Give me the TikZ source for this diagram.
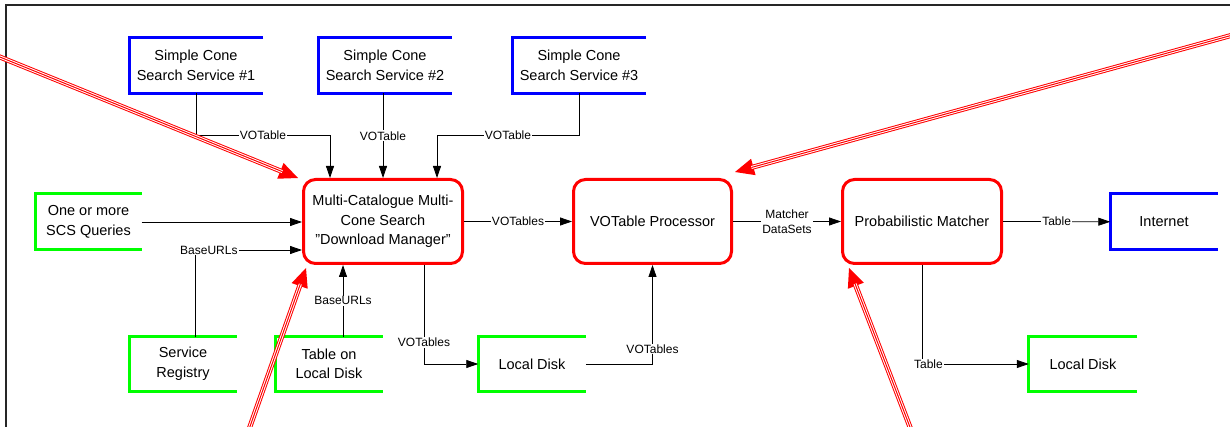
\documentclass[tikz,border=0pt]{standalone}
\usepackage{fontspec}
\setmainfont{Liberation Sans}
\usetikzlibrary{arrows.meta,calc}

\begin{document}
\begin{tikzpicture}[x=1pt,y=-1pt,
  boxfont/.style={font=\fontsize{14.5}{19.5}\selectfont},
  lblfont/.style={font=\fontsize{12}{15}\selectfont},
  process/.style={draw=red, line width=3pt, rounded corners=12pt, fill=white,
    minimum width=159pt, minimum height=84pt, align=center, inner sep=0pt, boxfont},
  store/.style={minimum height=56pt, align=center, inner sep=0pt, outer sep=0pt, boxfont},
  openbox/.style={line width=3pt, line join=miter},
  conn/.style={line width=0.8pt, black},
  arr/.style={conn, -{Triangle[length=12pt,width=8pt]}},
  lbl/.style={fill=white, inner sep=1pt, lblfont},
  pipe/.style={draw=red, line width=5pt,
    -{Triangle[length=19pt,width=17pt,line width=0pt]},
    postaction={draw=white, line width=3pt, shorten >=17pt, -},
    postaction={draw=red, line width=1pt, shorten >=17pt, -}}
]
\useasboundingbox (0,0) rectangle (1230,427);
\clip (0,0) rectangle (1230,427);

% outer frame
\draw[line width=1.5pt, black!85] (6,440) -- (6,5) -- (1240,5);

% processes
\node[process] (dm)   at (383,221.5) {Multi-Catalogue Multi-\\Cone Search\\"Download Manager"};
\node[process, minimum width=158pt] (votp) at (652.5,221.5) {VOTable Processor};
\node[process] (pm)   at (922,221.5) {Probabilistic Matcher};

% data stores and external entities
\node[store, minimum width=134pt] (scs1) at (196,65.5) {Simple Cone\\Search Service \#1};
\node[store, minimum width=133pt] (scs2) at (385,65.5) {Simple Cone\\Search Service \#2};
\node[store, minimum width=134pt] (scs3) at (579,65.5) {Simple Cone\\Search Service \#3};
\node[store, minimum width=107.5pt, minimum height=56.5pt] (inet) at (1164,221.75) {Internet};
\node[store, minimum width=106pt] (queries) at (88.5,222) {One or more\\SCS Queries};
\node[store, minimum width=107pt, minimum height=55pt] (reg) at (183,364) {Service\\Registry};
\node[store, minimum width=107.5pt, minimum height=55pt] (tld) at (329,364) {Table on\\Local Disk};
\node[store, minimum width=107.5pt, minimum height=55pt] (disk1) at (532,364) {Local Disk};
\node[store, minimum width=108.5pt, minimum height=55pt] (disk2) at (1083,364) {Local Disk};

\foreach \n in {scs1,scs2,scs3,inet}
  \draw[openbox, blue] (\n.north east) -- (\n.north west) -- (\n.south west) -- (\n.south east);
\foreach \n in {queries,reg,tld,disk1,disk2}
  \draw[openbox, green] (\n.north east) -- (\n.north west) -- (\n.south west) -- (\n.south east);

% search service results
\coordinate (j1) at (330,135);
\coordinate (j3) at (437,135);
\draw[arr] (scs1.south) |- node[lbl, pos=0.75] {VOTable} (j1) -- (j1 |- dm.north);
\draw[arr] (scs2.south -| dm.north) -- node[lbl] {VOTable} (dm.north);
\draw[arr] (scs3.south) |- node[lbl, pos=0.75] {VOTable} (j3) -- (j3 |- dm.north);

% inputs to the download manager
\coordinate (regout) at ($(reg.north)+(12,0)$);
\coordinate (tldout) at ($(tld.north)+(14,0)$);
\coordinate (dmin)   at ($(dm.west)+(0,28.5)$);
\draw[arr] (queries.east) -- (queries.east -| dm.west);
\draw[arr] (regout) |- node[lbl, pos=0.565] {BaseURLs} (dmin);
\draw[arr] (tldout) -- node[lbl] {BaseURLs} (tldout |- dm.south);

% download manager outputs
\coordinate (dmout) at ($(dm.south)+(41,0)$);
\draw[arr] (dmout) |- node[lbl, pos=0.39] {VOTables} (disk1.west);
\draw[arr] (dm.east) -- node[lbl] {VOTables} (votp.west);
\draw[arr] (disk1.east) -| node[lbl, pos=0.576] {VOTables} (votp.south);

% matcher
\draw[arr] (votp.east) -- node[lbl, align=center] {Matcher\\DataSets} (pm.west);
\draw[arr] (pm.east) -- node[lbl] {Table} (inet.west);
\draw[arr] (pm.south) |- node[lbl, pos=0.53] {Table} (disk2.west);

% red pipes
\coordinate (p1s) at (-10,53);   \coordinate (p1e) at (298,178);
\coordinate (p2s) at (1240,33);  \coordinate (p2e) at (735,172);
\coordinate (p3s) at (247,435);  \coordinate (p3e) at (306,268);
\coordinate (p4s) at (913,435);  \coordinate (p4e) at (849,268);
\draw[pipe] (p1s) -- (p1e);
\draw[pipe] (p2s) -- (p2e);
\draw[pipe] (p3s) -- (p3e);
\draw[pipe] (p4s) -- (p4e);
\end{tikzpicture}
\end{document}
